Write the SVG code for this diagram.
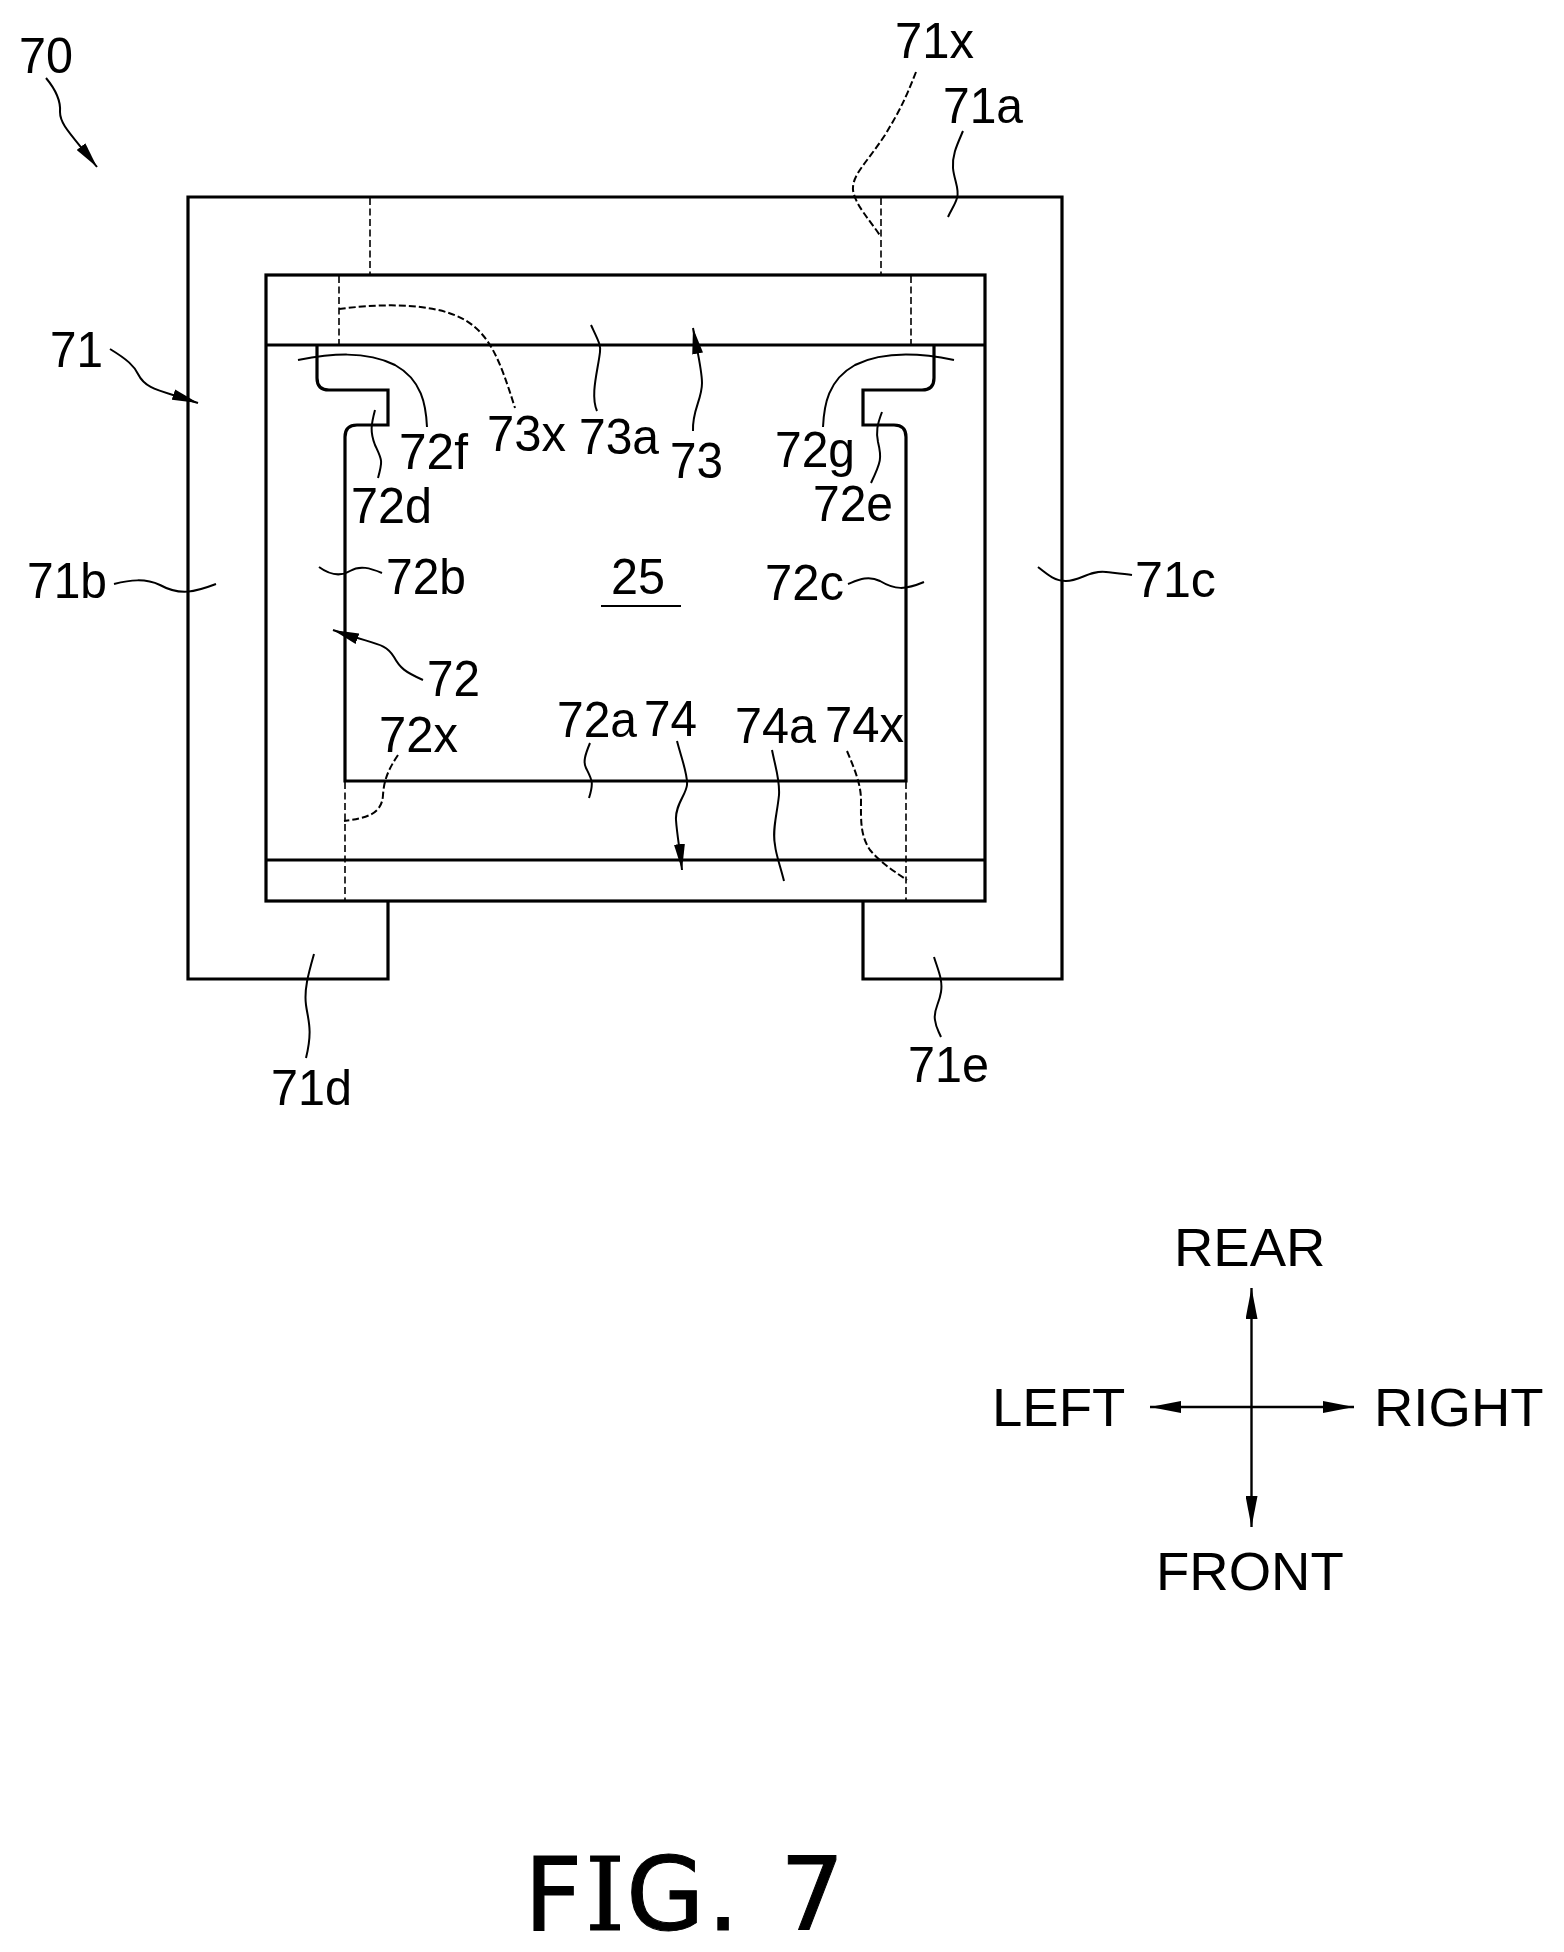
<svg xmlns="http://www.w3.org/2000/svg" width="1564" height="1952" viewBox="0 0 1564 1952">
<style>
.b{fill:none;stroke:#000;stroke-width:3.2;stroke-linejoin:miter}
.d{fill:none;stroke:#000;stroke-width:1.6;stroke-dasharray:7 3.5}
.l{fill:none;stroke:#000;stroke-width:2}
.ld{fill:none;stroke:#000;stroke-width:2;stroke-dasharray:7 3}
.a{marker-end:url(#ah)}
.c{fill:none;stroke:#000;stroke-width:2.4;marker-end:url(#ch)}
text{font-family:"Liberation Sans",Arial,sans-serif;font-size:50px;fill:#000}
.cap{font-size:54.500px}
.fig{font-family:"DejaVu Sans",sans-serif;font-size:101.500px;stroke:#000;stroke-width:1}
.figi{font-family:"DejaVu Serif",serif}
</style>
<defs>
<marker id="ah" markerUnits="userSpaceOnUse" viewBox="0 0 26 11" refX="26" refY="5.500" markerWidth="26" markerHeight="11" orient="auto"><polygon points="0,0 26,5.500 0,11"/></marker>
<marker id="ch" markerUnits="userSpaceOnUse" viewBox="0 0 31 12" refX="31" refY="6" markerWidth="31" markerHeight="12" orient="auto"><polygon points="0,0 31,6 0,12"/></marker>
</defs>
<rect width="1564" height="1952" fill="#fff"/>
<g id="frame-71">
<path class="b" d="M388 901V979H188V197H1062V979H863V901"/>
</g>
<g id="frame-73-74">
<rect class="b" x="266" y="275" width="719" height="626"/>
<path class="b" d="M266 345H985M266 860H985"/>
</g>
<g id="cavity-72">
<path class="b" d="M317 345V378Q317 390 329 390H388V425H357Q345 425 345 437V781H906V437Q906 425 894 425H863V390H922Q934 390 934 378V345"/>
</g>
<g id="hidden-lines">
<path class="d" d="M370 198V274M881 198V274M339 276V344M911 276V344M345 782V900M906 782V900"/>
</g>
<g id="connectors">
<path class="l a" d="M46 78C56 90 61 100 60 112C60 125 72 135 97 167"/>
<path class="l a" d="M110 349C128 360 134 366 138 374C146 390 160 390 198 403"/>
<path class="l a" d="M423 680C405 672 400 668 394 657C385 642 375 645 333 630"/>
<path class="l a" d="M693 431C692 410 702 400 702 383C702 370 697 350 693 328"/>
<path class="l a" d="M677 741C682 760 688 775 687 785C686 795 675 805 676 820C677 835 680 850 682 870"/>
<path class="l" d="M591 325C598 340 601 345 600 352C598 370 590 395 597 411"/>
<path class="l" d="M298 360C330 354 365 350 395 365C422 380 426 405 427 427"/>
<path class="l" d="M375 410C371 425 370 432 375 445C382 460 383 460 378 478"/>
<path class="l" d="M114 584C130 580 145 578 160 585C180 596 195 592 216 584"/>
<path class="l" d="M319 567C330 575 340 577 350 571C360 565 370 568 382 573"/>
<path class="l" d="M590 743C585 755 583 762 586 768C592 780 594 782 589 798"/>
<path class="l" d="M772 750C776 770 780 780 779 795C777 815 772 830 775 845C776 855 780 865 784 881"/>
<path class="l" d="M314 954C308 975 304 990 306 1005C308 1020 313 1030 306 1058"/>
<path class="l" d="M934 957C938 970 943 980 941 992C939 1005 933 1010 935 1020C936 1028 938 1030 941 1037"/>
<path class="l" d="M963 131C957 145 952 155 953 168C954 180 960 190 957 198C955 205 951 210 948 217"/>
<path class="l" d="M954 360C925 354 885 350 855 365C828 380 824 405 823 427"/>
<path class="l" d="M882 412C877 425 876 432 878 442C882 458 881 462 871 483"/>
<path class="l" d="M848 584C858 580 868 575 880 581C895 590 905 590 924 582"/>
<path class="l" d="M1038 567C1048 575 1055 581 1066 581C1080 581 1090 570 1106 572C1115 573 1125 574 1132 575"/>
<path class="ld" d="M339 309C370 305 430 300 465 320C490 335 500 360 515 408"/>
<path class="ld" d="M398 755C388 770 384 780 383 795C382 815 365 818 344 821"/>
<path class="ld" d="M847 751C855 770 861 785 861 800C861 820 860 835 870 850C880 862 892 870 907 880"/>
<path class="ld" d="M916 72C905 100 900 110 885 135C865 165 852 175 853 190C855 205 870 220 881 237"/>
</g>
<g id="labels">
<text x="19" y="73" textLength="54" lengthAdjust="spacingAndGlyphs">70</text>
<text x="50" y="367" textLength="53" lengthAdjust="spacingAndGlyphs">71</text>
<text x="399" y="469" textLength="69" lengthAdjust="spacingAndGlyphs">72f</text>
<text x="487" y="451" textLength="79" lengthAdjust="spacingAndGlyphs">73x</text>
<text x="579" y="454" textLength="80" lengthAdjust="spacingAndGlyphs">73a</text>
<text x="670" y="478" textLength="53" lengthAdjust="spacingAndGlyphs">73</text>
<text x="351" y="523" textLength="81" lengthAdjust="spacingAndGlyphs">72d</text>
<text x="27" y="598" textLength="80" lengthAdjust="spacingAndGlyphs">71b</text>
<text x="386" y="594" textLength="80" lengthAdjust="spacingAndGlyphs">72b</text>
<text x="895" y="58" textLength="79" lengthAdjust="spacingAndGlyphs">71x</text>
<text x="943" y="123" textLength="80" lengthAdjust="spacingAndGlyphs">71a</text>
<text x="775" y="467" textLength="80" lengthAdjust="spacingAndGlyphs">72g</text>
<text x="813" y="521" textLength="80" lengthAdjust="spacingAndGlyphs">72e</text>
<text x="765" y="600" textLength="79" lengthAdjust="spacingAndGlyphs">72c</text>
<text x="1135" y="597" textLength="81" lengthAdjust="spacingAndGlyphs">71c</text>
<text x="427" y="696" textLength="53" lengthAdjust="spacingAndGlyphs">72</text>
<text x="379" y="752" textLength="79" lengthAdjust="spacingAndGlyphs">72x</text>
<text x="557" y="737" textLength="80" lengthAdjust="spacingAndGlyphs">72a</text>
<text x="644" y="736" textLength="53" lengthAdjust="spacingAndGlyphs">74</text>
<text x="735" y="743" textLength="81" lengthAdjust="spacingAndGlyphs">74a</text>
<text x="825" y="742" textLength="79" lengthAdjust="spacingAndGlyphs">74x</text>
<text x="271" y="1105" textLength="81" lengthAdjust="spacingAndGlyphs">71d</text>
<text x="908" y="1082" textLength="81" lengthAdjust="spacingAndGlyphs">71e</text>
</g>
<g id="ref-25">
<text x="611" y="594" textLength="54" lengthAdjust="spacingAndGlyphs">25</text>
<path class="l" d="M601 606H681" stroke-width="2.5"/>
</g>
<g id="compass">
<path class="c" d="M1251.500 1407V1288"/>
<path class="c" d="M1251.500 1407V1527"/>
<path class="c" d="M1251.500 1407H1150"/>
<path class="c" d="M1251.500 1407H1354"/>
<text class="cap" x="1174" y="1266">REAR</text>
<text class="cap" x="992" y="1426">LEFT</text>
<text class="cap" x="1374" y="1426">RIGHT</text>
<text class="cap" x="1156" y="1590">FRONT</text>
</g>
<g id="caption">
<text class="fig" y="1930"><tspan x="524">F</tspan><tspan class="figi" x="585">I</tspan><tspan x="626">G</tspan><tspan x="707">.</tspan> <tspan x="780">7</tspan></text>
</g>
</svg>
